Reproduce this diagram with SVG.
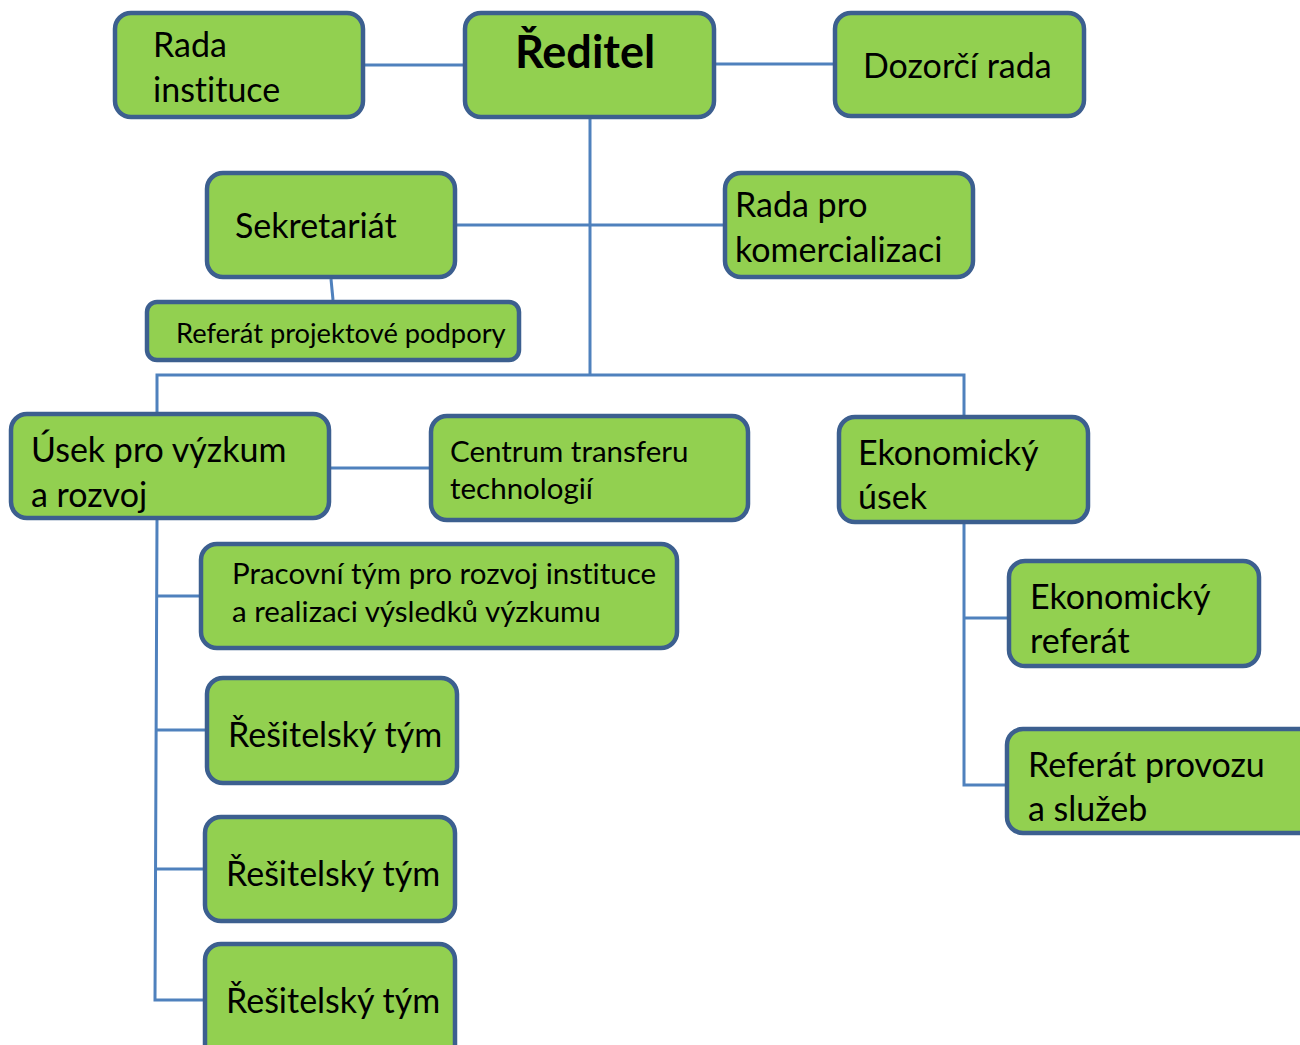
<svg xmlns="http://www.w3.org/2000/svg" width="1300" height="1045" viewBox="0 0 1300 1045">
<style>
.n{fill:#92D050;stroke:#3C5F8F;stroke-width:4.5}
.t{font-family:Lato,"Open Sans","Liberation Sans",sans-serif;font-size:34px;fill:#000;font-variant-ligatures:none;font-feature-settings:"liga" 0,"dlig" 0}
.s{font-size:29.5px}
.xs{font-size:27.3px}
.b{font-weight:bold;font-size:45px}
.c{fill:none;stroke:#4F81BD;stroke-width:3}
</style>
<rect width="1300" height="1045" fill="#fff"/>
<g id="connectors" class="c">
<path d="M365 65H463"/>
<path d="M716 64H833"/>
<path d="M590 119V375"/>
<path d="M457 225H723"/>
<path d="M331 279L333 300"/>
<path d="M157 412V375H964V415"/>
<path d="M331 468H429"/>
<path d="M157 520L155 1000H203"/>
<path d="M156 596H199"/>
<path d="M156 730H205"/>
<path d="M155 869H203"/>
<path d="M964 524V785H1005"/>
<path d="M964 618H1007"/>
</g>
<g id="rada-instituce"><rect class="n" x="115" y="13" width="248" height="104" rx="16"/><text class="t" x="153" y="57">Rada</text><text class="t" x="153" y="102">instituce</text></g>
<g id="reditel"><rect class="n" x="465" y="13" width="249" height="104" rx="16"/><text class="t b" x="585" y="68" text-anchor="middle">Ředitel</text></g>
<g id="dozorci-rada"><rect class="n" x="835" y="13" width="249" height="103" rx="16"/><text class="t" x="863" y="78">Dozorčí rada</text></g>
<g id="sekretariat"><rect class="n" x="207" y="173" width="248" height="104" rx="16"/><text class="t" x="235" y="238">Sekretariát</text></g>
<g id="rada-pro-komercializaci"><rect class="n" x="725" y="173" width="248" height="104" rx="16"/><text class="t" x="735" y="217">Rada pro</text><text class="t" x="735" y="262">komercializaci</text></g>
<g id="referat-projektove-podpory"><rect class="n" x="147" y="302" width="372" height="58" rx="10"/><text class="t xs" x="176" y="343">Referát projektové podpory</text></g>
<g id="usek-vyzkum"><rect class="n" x="11" y="414" width="318" height="104" rx="16"/><text class="t" x="31" y="462">Úsek pro výzkum</text><text class="t" x="31" y="507">a rozvoj</text></g>
<g id="centrum-transferu"><rect class="n" x="431" y="416" width="317" height="104" rx="16"/><text class="t s" x="450" y="462">Centrum transferu</text><text class="t s" x="450" y="499">technologií</text></g>
<g id="ekonomicky-usek"><rect class="n" x="839" y="417" width="249" height="105" rx="16"/><text class="t" x="858" y="465">Ekonomický</text><text class="t" x="858" y="509">úsek</text></g>
<g id="pracovni-tym"><rect class="n" x="201" y="544" width="476" height="104" rx="16"/><text class="t s" x="232" y="584">Pracovní tým pro rozvoj instituce</text><text class="t s" x="232" y="622">a realizaci výsledků výzkumu</text></g>
<g id="ekonomicky-referat"><rect class="n" x="1009" y="561" width="250" height="105" rx="16"/><text class="t" x="1030" y="609">Ekonomický</text><text class="t" x="1030" y="653">referát</text></g>
<g id="referat-provozu"><rect class="n" x="1007" y="729" width="310" height="104" rx="16"/><text class="t" x="1028" y="777">Referát provozu</text><text class="t" x="1028" y="821">a služeb</text></g>
<g id="resitelsky-tym-1"><rect class="n" x="207" y="678" width="250" height="105" rx="16"/><text class="t" x="228" y="747">Řešitelský tým</text></g>
<g id="resitelsky-tym-2"><rect class="n" x="205" y="817" width="250" height="104" rx="16"/><text class="t" x="226" y="886">Řešitelský tým</text></g>
<g id="resitelsky-tym-3"><rect class="n" x="205" y="944" width="250" height="120" rx="16"/><text class="t" x="226" y="1013">Řešitelský tým</text></g>
</svg>
